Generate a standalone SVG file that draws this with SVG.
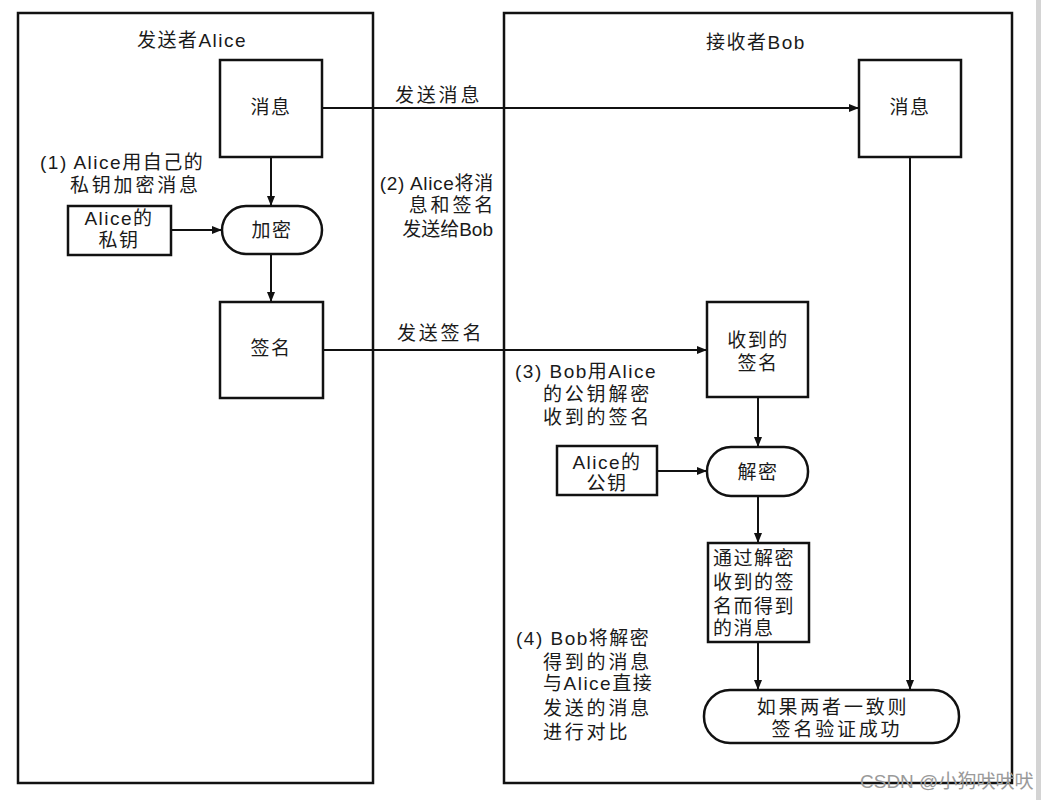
<svg xmlns="http://www.w3.org/2000/svg" width="1047" height="800" viewBox="0 0 1047 800">
<style>
  text { font-family: "Liberation Sans", "Noto Sans CJK SC", sans-serif; font-size: 19px; fill: #1a1a1a; letter-spacing: 1.5px; }
  .c { text-anchor: middle; }
  .e { text-anchor: end; }
  .w { letter-spacing: 2.8px; }
  .t { letter-spacing: 0.7px; }
  .z { letter-spacing: 0px; }
  .panel { fill: none; stroke: #111; stroke-width: 2.5; }
  .box { fill: #fff; stroke: #111; stroke-width: 2.5; }
  .edge { fill: none; stroke: #111; stroke-width: 2; }
  .wm { font-size: 19px; fill: #9a9a9a; letter-spacing: 0; }
</style>
<defs>
  <marker id="arr" viewBox="0 0 10 8" refX="10" refY="4" markerWidth="10" markerHeight="8" markerUnits="userSpaceOnUse" orient="auto">
    <path d="M0,0 L10,4 L0,8 Z" fill="#111"/>
  </marker>
</defs>
<rect x="0" y="0" width="1047" height="800" fill="#fff"/>
<rect x="1036" y="0" width="5" height="800" fill="#d4d4d4"/>

<g id="panel-alice">
  <rect class="panel" x="18" y="13" width="355" height="770"/>
  <text class="c" x="192" y="47">发送者Alice</text>
</g>
<g id="panel-bob">
  <rect class="panel" x="504" y="13" width="508" height="770"/>
  <text class="c" x="756" y="49">接收者Bob</text>
</g>

<g id="connectors">
  <line class="edge" x1="322" y1="108" x2="859" y2="108" marker-end="url(#arr)"/>
  <line class="edge" x1="271" y1="157" x2="271" y2="206" marker-end="url(#arr)"/>
  <line class="edge" x1="171" y1="230" x2="222" y2="230" marker-end="url(#arr)"/>
  <line class="edge" x1="271" y1="254" x2="271" y2="302" marker-end="url(#arr)"/>
  <line class="edge" x1="323" y1="350" x2="707" y2="350" marker-end="url(#arr)"/>
  <line class="edge" x1="758" y1="397" x2="758" y2="447" marker-end="url(#arr)"/>
  <line class="edge" x1="657" y1="471" x2="707" y2="471" marker-end="url(#arr)"/>
  <line class="edge" x1="758" y1="496" x2="758" y2="543" marker-end="url(#arr)"/>
  <line class="edge" x1="758" y1="642" x2="758" y2="690" marker-end="url(#arr)"/>
  <line class="edge" x1="910" y1="157" x2="910" y2="690" marker-end="url(#arr)"/>
  <text class="w" x="395" y="102">发送消息</text>
  <text class="w" x="397" y="340">发送签名</text>
</g>

<g id="alice-msg">
  <rect class="box" x="220" y="60" width="102" height="97"/>
  <text class="c" x="271" y="114">消息</text>
</g>
<g id="alice-key">
  <rect class="box" x="68" y="206" width="103" height="49"/>
  <text class="c" x="119" y="225">Alice的</text>
  <text class="c" x="119" y="247">私钥</text>
</g>
<g id="encrypt">
  <rect class="box" x="222" y="206" width="100" height="48" rx="24"/>
  <text class="c" x="272" y="237">加密</text>
</g>
<g id="alice-sig">
  <rect class="box" x="220" y="302" width="103" height="96"/>
  <text class="c" x="271" y="355">签名</text>
</g>
<g id="bob-msg">
  <rect class="box" x="859" y="60" width="102" height="97"/>
  <text class="c" x="910" y="114">消息</text>
</g>
<g id="recv-sig">
  <rect class="box" x="707" y="302" width="101" height="95"/>
  <text class="c" x="758" y="347">收到的</text>
  <text class="c" x="758" y="370">签名</text>
</g>
<g id="pub-key">
  <rect class="box" x="557" y="446" width="100" height="49"/>
  <text class="c" x="607" y="469">Alice的</text>
  <text class="c" x="607" y="490">公钥</text>
</g>
<g id="decrypt">
  <rect class="box" x="707" y="447" width="101" height="49" rx="24"/>
  <text class="c" x="758" y="479">解密</text>
</g>
<g id="decrypted-msg">
  <rect class="box" x="708" y="543" width="101" height="99"/>
  <text x="713" y="565">通过解密</text>
  <text x="713" y="589">收到的签</text>
  <text x="713" y="613">名而得到</text>
  <text x="713" y="635">的消息</text>
</g>
<g id="verify">
  <rect class="box" x="704" y="690" width="255" height="53" rx="26"/>
  <text class="c w" x="833" y="714">如果两者一致则</text>
  <text class="c w" x="837" y="736">签名验证成功</text>
</g>

<g id="notes">
  <text x="40" y="169">(1) Alice用自己的</text>
  <text class="w" x="70" y="192">私钥加密消息</text>
  <text class="e t" x="494" y="190">(2) Alice将消</text>
  <text class="e w" x="496" y="212">息和签名</text>
  <text class="e z" x="493" y="236">发送给Bob</text>
  <text x="515" y="378">(3) Bob用Alice</text>
  <text class="w" x="543" y="401">的公钥解密</text>
  <text class="w" x="543" y="424">收到的签名</text>
  <text x="516" y="645">(4) Bob将解密</text>
  <text class="w" x="543" y="669">得到的消息</text>
  <text x="543" y="690">与Alice直接</text>
  <text class="w" x="543" y="715">发送的消息</text>
  <text class="w" x="543" y="739">进行对比</text>
</g>
<text class="wm" x="860" y="788">CSDN @小狗吠吠吠</text>
</svg>
